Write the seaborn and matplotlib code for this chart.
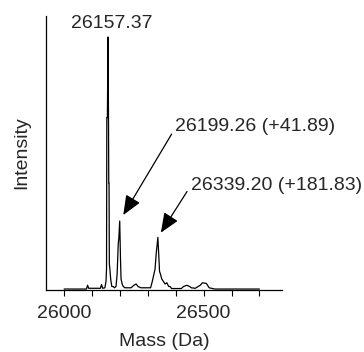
import matplotlib
matplotlib.use("Agg")
import matplotlib.pyplot as plt
import seaborn as sns
import pandas as pd
from matplotlib.ticker import MultipleLocator, FixedLocator

# Spectrum trace (mass in Da, relative intensity %)
mass = [26000, 26080, 26084, 26088, 26130, 26134, 26138, 26146, 26150, 26152,
        26153, 26155, 26157.37, 26159, 26160, 26161, 26162, 26164, 26166, 26168,
        26171, 26176, 26180, 26186, 26190, 26194, 26196, 26199.26, 26202, 26204,
        26208, 26212, 26218, 26240, 26250, 26258, 26265, 26275, 26310, 26316,
        26322, 26326, 26330, 26336, 26339, 26342, 26345, 26350, 26356, 26362,
        26368, 26375, 26380, 26385, 26420, 26428, 26440, 26450, 26456, 26470,
        26488, 26496, 26510, 26520, 26540, 26700]
intensity = [0, 0, 1.5, 0.3, 0.3, 1.8, 0.3, 0.5, 3, 8,
             68, 68, 100, 68, 42, 42, 10, 8, 5, 3,
             1, 1, 0.5, 1, 6, 18, 20, 27, 12, 4,
             2, 1, 0.5, 0.5, 1.5, 2, 1, 0.5, 0.5, 3,
             6, 8, 14, 20.5, 14, 7, 6, 4, 3, 2,
             2.5, 1, 1, 0.2, 0.2, 1, 1.5, 1, 0.5, 0.3,
             1.5, 2.5, 2.2, 0.5, 0, 0]

peak_mass = [26157.37, 26199.26, 26336]
peak_int = [100, 27, 20.5]
peak_labels = ["26157.37", "26199.26 (+41.89)", "26339.20 (+181.83)"]

xtick_major = [26000, 26500]
xlabel = "Mass (Da)"
ylabel = "Intensity"

sns.set_style("ticks")
plt.rcParams["font.family"] = ["Liberation Sans", "DejaVu Sans"]

fig = plt.figure(figsize=(3.64, 3.52), dpi=100)
ax = fig.add_axes([0.1264, 0.176, 0.6483, 0.7784])

df = pd.DataFrame({"mass": mass, "intensity": intensity})
sns.lineplot(data=df, x="mass", y="intensity", sort=False, color="black",
             linewidth=0.9, ax=ax)

ax.set_xlim(25935, 26781)
ax.set_ylim(-0.4, 108.3)
ax.xaxis.set_major_locator(FixedLocator(xtick_major))
ax.xaxis.set_minor_locator(MultipleLocator(100))
ax.set_yticks([])
ax.tick_params(axis="x", which="both", direction="out", length=4, width=0.8,
               color="black", labelsize=14, pad=6.5)
ax.set_xticklabels([str(t) for t in xtick_major])
ax.set_xlabel(xlabel, fontsize=14, labelpad=8)
ax.set_ylabel(ylabel, fontsize=14, labelpad=11)
for s in ["top", "right"]:
    ax.spines[s].set_visible(False)
for s in ["left", "bottom"]:
    ax.spines[s].set_linewidth(0.9)
    ax.spines[s].set_color("black")

# main peak label
ax.annotate(peak_labels[0], xy=(peak_mass[0], peak_int[0]), xytext=(2.7, 9.5),
            textcoords="offset points", ha="center", va="center", fontsize=14)

arrow_kw = dict(arrowstyle="-|>,head_length=0.6,head_width=0.25",
                color="black", lw=0.9, mutation_scale=20, shrinkA=0)
# second peak
ax.annotate("", xy=(peak_mass[1], peak_int[1]), xytext=(37.4, 62.6),
            textcoords="offset points", arrowprops=dict(shrinkB=5, **arrow_kw))
ax.annotate(peak_labels[1], xy=(peak_mass[1], peak_int[1]), xytext=(39.6, 67.7),
            textcoords="offset points", ha="left", va="center", fontsize=14)
# third peak
ax.annotate("", xy=(peak_mass[2], peak_int[2]), xytext=(21, 33),
            textcoords="offset points", arrowprops=dict(shrinkB=4, **arrow_kw))
ax.annotate(peak_labels[2], xy=(peak_mass[2], peak_int[2]), xytext=(24, 37),
            textcoords="offset points", ha="left", va="center", fontsize=14)

fig.savefig("out.png", dpi=100)
